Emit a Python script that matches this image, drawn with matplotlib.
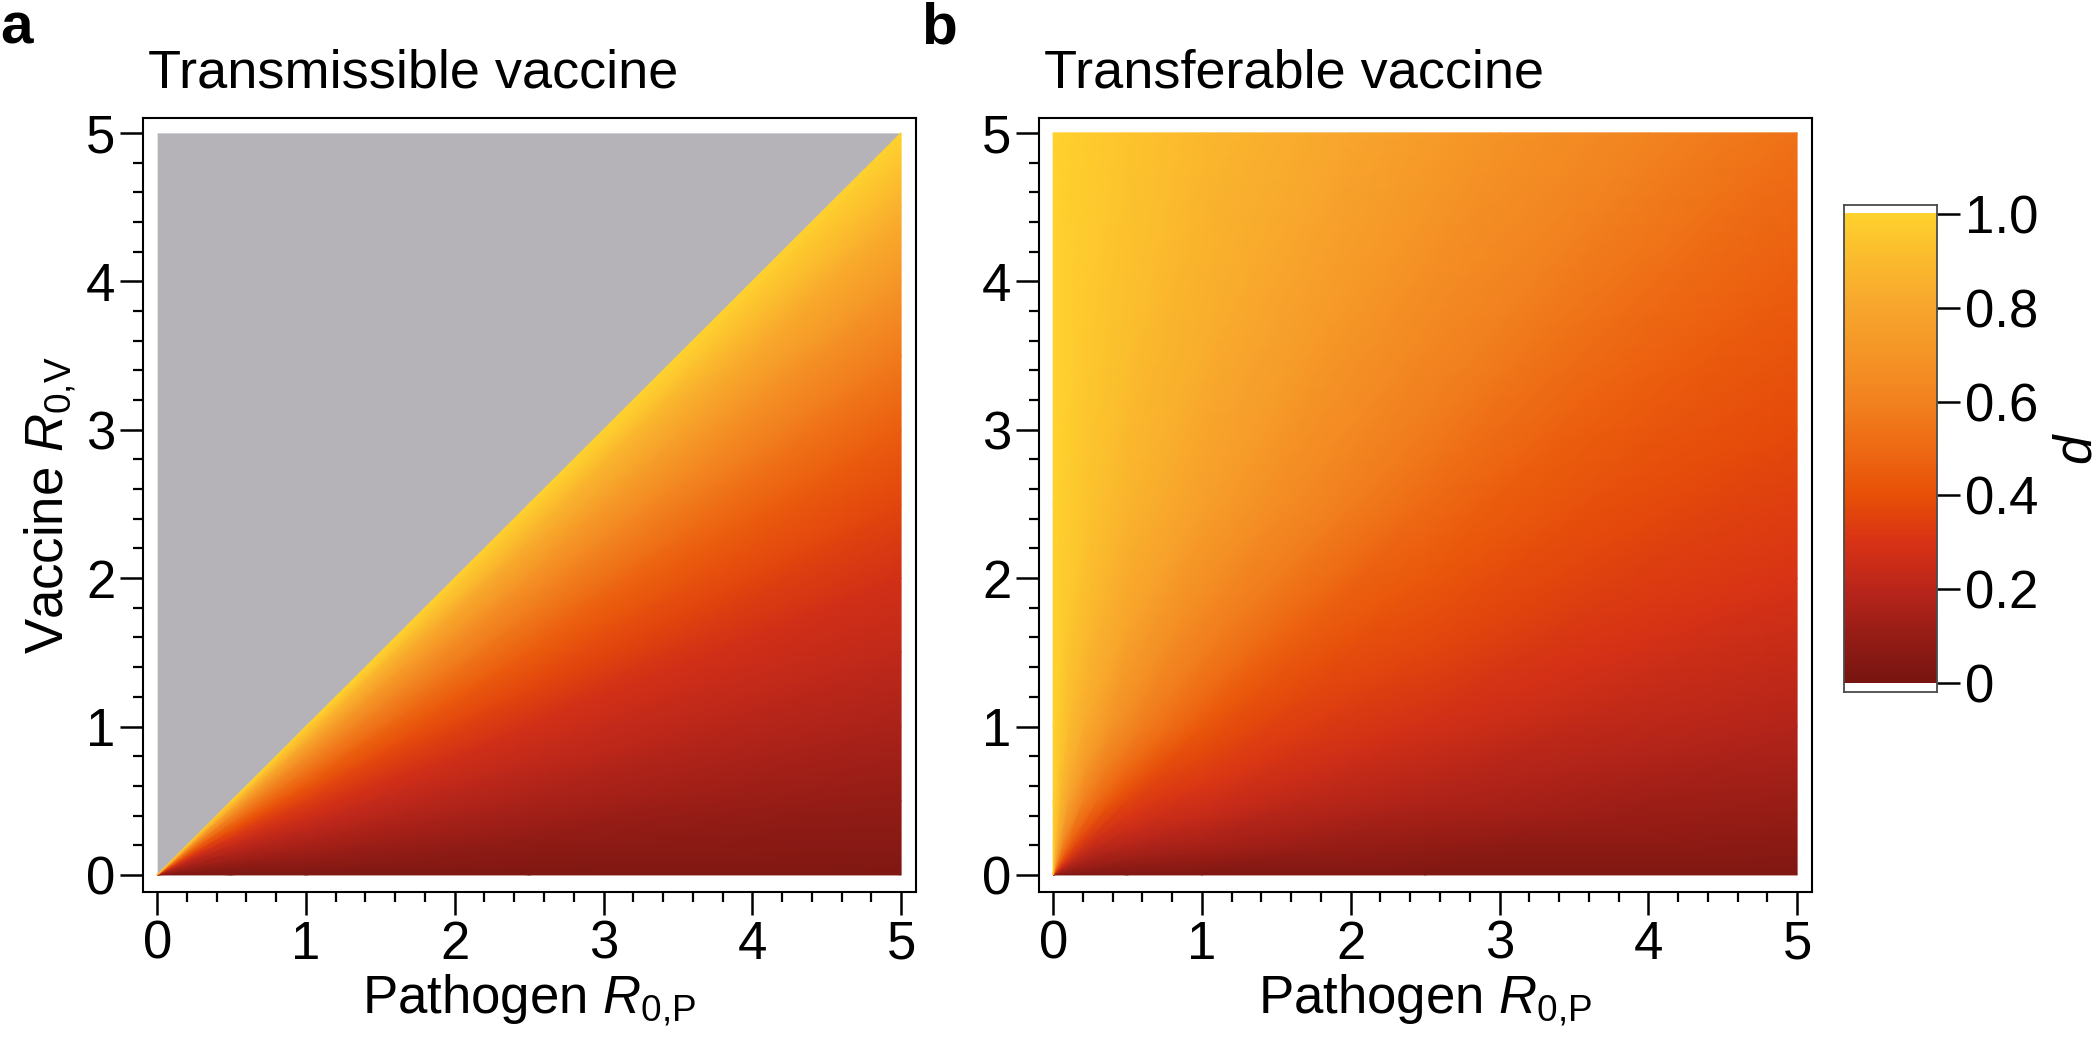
import numpy as np
import matplotlib
matplotlib.use('Agg')
import matplotlib.pyplot as plt
from matplotlib.colors import LinearSegmentedColormap
from matplotlib.ticker import MultipleLocator

plt.rcParams['font.family'] = ['Liberation Sans', 'DejaVu Sans']
plt.rcParams['mathtext.fontset'] = 'custom'
plt.rcParams['mathtext.rm'] = 'Liberation Sans'
plt.rcParams['mathtext.it'] = 'Liberation Sans:italic'
plt.rcParams['font.size'] = 38
plt.rcParams['axes.linewidth'] = 1.5


# colour scale
cmap_pos = [0.0, 0.1, 0.2, 0.3, 0.4, 0.5, 0.6, 0.7, 0.8, 0.9, 1.0]
cmap_hex = ['#781511', '#961d16', '#ba261b', '#d93316', '#e85007', '#ee6a14',
            '#f2821f', '#f59527', '#f8a62d', '#fbba2d', '#ffd22e']
cb_ticks = [0, 0.2, 0.4, 0.6, 0.8, 1.0]
cb_labels = ['0', '0.2', '0.4', '0.6', '0.8', '1.0']

axis_ticks = [0, 1, 2, 3, 4, 5]

# panel a: rows = ratio R0V/R0P, columns = pathogen R0P
a_ratio = [0.0, 0.1, 0.2, 0.3, 0.4, 0.5, 0.6, 0.7, 0.8, 0.9, 1.0]
a_r0p = [0.0, 0.5, 1.0, 2.5, 5.0]
a_d = [[0.02, 0.02, 0.02, 0.03, 0.03],
       [0.05, 0.07, 0.09, 0.09, 0.09],
       [0.08, 0.13, 0.15, 0.16, 0.16],
       [0.12, 0.18, 0.21, 0.22, 0.22],
       [0.16, 0.24, 0.27, 0.28, 0.28],
       [0.22, 0.31, 0.34, 0.36, 0.36],
       [0.30, 0.40, 0.43, 0.45, 0.45],
       [0.40, 0.51, 0.54, 0.56, 0.57],
       [0.53, 0.64, 0.67, 0.69, 0.70],
       [0.72, 0.81, 0.83, 0.84, 0.85],
       [0.95, 1.00, 1.00, 1.00, 1.00]]

# panel b: rows = position along the outer edge
# (0: R0P axis end, 5: top-right corner, 10: top of R0V axis),
# columns = fraction of the way out from the origin
b_edge = [0, 1, 2, 3, 4, 5, 6, 7, 8, 9, 9.5, 10]
b_frac = [0.0, 0.1, 0.2, 0.5, 1.0]
b_d = [[0.03, 0.03, 0.03, 0.03, 0.03],
       [0.08, 0.12, 0.15, 0.17, 0.18],
       [0.12, 0.19, 0.24, 0.28, 0.30],
       [0.16, 0.25, 0.31, 0.36, 0.38],
       [0.20, 0.31, 0.37, 0.43, 0.45],
       [0.25, 0.36, 0.43, 0.50, 0.53],
       [0.30, 0.42, 0.50, 0.58, 0.61],
       [0.38, 0.50, 0.58, 0.66, 0.69],
       [0.50, 0.60, 0.68, 0.76, 0.79],
       [0.70, 0.78, 0.83, 0.87, 0.89],
       [0.85, 0.88, 0.91, 0.93, 0.94],
       [0.98, 1.00, 1.00, 1.00, 1.00]]

gray = '#b5b3b7'
cmap = LinearSegmentedColormap.from_list('solar', list(zip(cmap_pos, cmap_hex)))

fig = plt.figure(figsize=(21, 10.37), dpi=100)
W, H = 2100., 1037.
axA = fig.add_axes([143/W, 1-892/H, 773/W, 774/H])
axB = fig.add_axes([1039/W, 1-892/H, 773/W, 774/H])
cax = fig.add_axes([1844/W, 1-692/H, 93/W, 487/H])

rmax = max(a_r0p)

# panel a
ratio = np.array(a_ratio)[:, None]
r0p = np.array(a_r0p)[None, :]
Xa = r0p * np.ones_like(ratio)
Ya = ratio * r0p
axA.fill_between(a_r0p, a_r0p, rmax, color=gray, lw=0, zorder=1)
axA.pcolormesh(Xa, Ya, np.array(a_d), shading='gouraud', cmap=cmap,
               vmin=0, vmax=1, zorder=2)

# panel b
edge = np.array(b_edge, dtype=float)
bx = np.where(edge <= rmax, rmax, 2*rmax - edge)
by = np.minimum(edge, rmax)
frac = np.array(b_frac)[None, :]
Xb = bx[:, None] * frac
Yb = by[:, None] * frac
axB.pcolormesh(Xb, Yb, np.array(b_d), shading='gouraud', cmap=cmap,
               vmin=0, vmax=1, zorder=2)

for ax, title in [(axA, 'Transmissible vaccine'), (axB, 'Transferable vaccine')]:
    ax.set_xlim(-0.095, 5.1)
    ax.set_ylim(-0.115, 5.1)
    ax.set_xticks(axis_ticks)
    ax.set_yticks(axis_ticks)
    ax.xaxis.set_minor_locator(MultipleLocator(0.2))
    ax.yaxis.set_minor_locator(MultipleLocator(0.2))
    ax.tick_params(which='major', length=16.5, width=1.8, pad=3.5)
    ax.tick_params(which='minor', length=7, width=1.6)
    ax.set_xlabel(r'Pathogen $R_{0{,}\mathrm{P}}$', labelpad=2)
    ax.text(0.006, 1 + 31/774, title, transform=ax.transAxes,
            ha='left', va='baseline', size=39)

axA.set_ylabel(r'Vaccine $R_{0{,}\mathrm{V}}$', labelpad=6)

# colour bar
cax.imshow(np.linspace(0, 1, 256)[:, None], cmap=cmap, origin='lower',
           extent=(0, 1, 0, 1), aspect='auto')
cax.set_xlim(0, 1)
cax.set_ylim(-0.019, 1.019)
cax.set_xticks([])
cax.yaxis.tick_right()
cax.set_yticks(cb_ticks)
cax.set_yticklabels(cb_labels)
cax.tick_params(length=16.5, width=1.8, pad=3.5)
for s in cax.spines.values():
    s.set_color('#4a4a4a')
    s.set_linewidth(1.3)
cax.yaxis.set_label_position('right')
cax.set_ylabel('$d$', rotation=90, labelpad=10)

fig.text(0/W, 1-44/H, 'a', weight='bold', size=42, va='baseline', ha='left')
fig.text(921/W, 1-44/H, 'b', weight='bold', size=42, va='baseline', ha='left')

fig.savefig('out.png', dpi=100)
